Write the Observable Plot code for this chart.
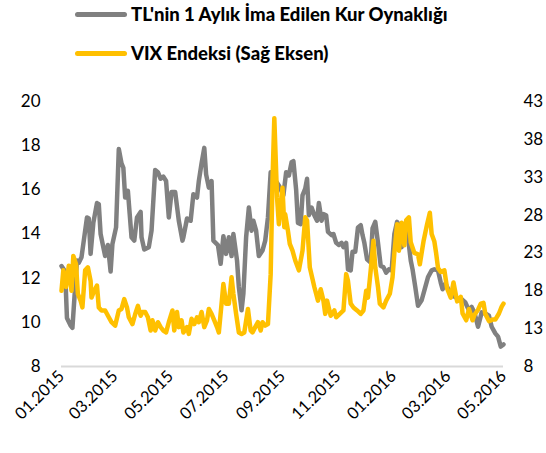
<!DOCTYPE html>
<html><head><meta charset="utf-8">
<script src="https://cdn.jsdelivr.net/npm/d3@7"></script>
<script src="https://cdn.jsdelivr.net/npm/@observablehq/plot@0.6"></script>
<style>
body{margin:0;background:#fff;font-family:Lato,"Open Sans",sans-serif;}
#legend{position:relative;height:80px;width:546px;}
.item{position:absolute;left:75px;display:flex;align-items:center;font-weight:900;font-size:18.5px;color:#000;line-height:22px;}
.sw{width:52px;height:5px;border-radius:2.5px;margin-right:4px;}
</style></head><body>
<div id="legend"></div>
<div id="chart"></div>
<script>
const seriesNames = ["TL'nin 1 Aylık İma Edilen Kur Oynaklığı", "VIX Endeksi (Sağ Eksen)"];
const seriesColors = ["#808080", "#FFC000"];
const leftTicks = [8, 10, 12, 14, 16, 18, 20];
const rightTicks = [8, 13, 18, 23, 28, 33, 38, 43];
const xTickLabels = ["01.2015","03.2015","05.2015","07.2015","09.2015","11.2015","01.2016","03.2016","05.2016"];

const tlDates = ["2015-01-01","2015-01-05","2015-01-07","2015-01-11","2015-01-13","2015-01-16","2015-01-18","2015-01-20","2015-01-23","2015-01-29","2015-01-31","2015-02-02","2015-02-05","2015-02-09","2015-02-11","2015-02-13","2015-02-16","2015-02-18","2015-02-21","2015-02-24","2015-02-26","2015-03-02","2015-03-05","2015-03-08","2015-03-10","2015-03-12","2015-03-15","2015-03-17","2015-03-19","2015-03-22","2015-03-25","2015-03-29","2015-03-30","2015-04-02","2015-04-07","2015-04-10","2015-04-14","2015-04-17","2015-04-20","2015-04-23","2015-04-26","2015-04-29","2015-05-02","2015-05-06","2015-05-10","2015-05-14","2015-05-15","2015-05-19","2015-05-23","2015-05-26","2015-05-30","2015-06-01","2015-06-04","2015-06-07","2015-06-09","2015-06-12","2015-06-15","2015-06-17","2015-06-22","2015-06-25","2015-06-28","2015-07-01","2015-07-04","2015-07-07","2015-07-09","2015-07-13","2015-07-15","2015-07-18","2015-07-20","2015-07-23","2015-07-26","2015-07-29","2015-07-31","2015-08-03","2015-08-06","2015-08-10","2015-08-13","2015-08-16","2015-08-19","2015-08-21","2015-08-23","2015-08-28","2015-09-02","2015-09-05","2015-09-08","2015-09-11","2015-09-13","2015-09-16","2015-09-18","2015-09-21","2015-09-23","2015-09-26","2015-09-28","2015-09-30","2015-10-03","2015-10-06","2015-10-09","2015-10-11","2015-10-14","2015-10-16","2015-10-19","2015-10-21","2015-10-25","2015-10-27","2015-10-30","2015-11-02","2015-11-05","2015-11-07","2015-11-10","2015-11-12","2015-11-15","2015-11-17","2015-11-20","2015-11-23","2015-11-26","2015-11-28","2015-11-30","2015-12-03","2015-12-07","2015-12-09","2015-12-12","2015-12-15","2015-12-18","2015-12-21","2015-12-24","2015-12-27","2015-12-30","2016-01-02","2016-01-05","2016-01-07","2016-01-10","2016-01-14","2016-01-17","2016-01-20","2016-01-22","2016-01-25","2016-01-28","2016-02-01","2016-02-04","2016-02-08","2016-02-12","2016-02-15","2016-02-19","2016-02-22","2016-02-24","2016-02-27","2016-03-02","2016-03-05","2016-03-09","2016-03-13","2016-03-16","2016-03-20","2016-03-24","2016-03-27","2016-03-30","2016-04-03","2016-04-07","2016-04-11","2016-04-15","2016-04-18","2016-04-22","2016-04-25","2016-04-28","2016-05-01"];
const tlValues = [12.55,12.3,10.2,9.85,9.75,11.6,12.8,12.7,12.95,14.75,14.7,13.1,14.5,15.4,15.35,14.0,13.4,13.0,13.5,12.3,13.55,14.3,17.85,17.2,17.0,15.65,15.95,14.9,13.85,13.7,14.75,15.0,13.85,13.3,13.4,14.15,16.9,16.8,16.5,16.6,16.4,14.75,15.9,15.9,14.6,13.7,13.85,14.7,14.6,15.8,15.65,16.4,17.2,17.9,16.7,16.1,16.4,13.7,13.5,12.65,13.9,13.1,13.85,13.0,14.0,12.8,11.6,10.55,11.3,13.85,15.2,14.15,14.6,14.15,13.0,13.25,13.7,14.75,16.8,16.0,16.5,16.2,15.75,16.8,16.65,17.25,17.3,16.0,14.5,14.45,15.75,16.05,16.5,14.85,15.2,14.85,14.6,15.4,14.6,14.9,14.85,14.1,13.95,14.0,13.6,13.5,13.6,13.4,13.6,12.4,12.35,13.2,13.2,14.3,14.4,13.95,13.6,12.85,12.7,14.25,14.55,13.6,12.55,12.5,12.25,12.4,12.35,14.0,14.55,14.4,13.4,14.45,13.85,12.8,12.4,11.6,10.75,11.0,11.45,12.05,12.35,12.4,12.35,11.8,11.5,11.75,11.45,11.2,11.15,11.0,11.05,10.9,10.55,10.7,10.45,9.8,10.45,10.4,10.3,9.8,9.5,9.35,8.9,9.0];

const vixDates = ["2015-01-01","2015-01-03","2015-01-06","2015-01-09","2015-01-12","2015-01-14","2015-01-17","2015-01-19","2015-01-22","2015-01-24","2015-01-27","2015-01-30","2015-02-02","2015-02-03","2015-02-06","2015-02-09","2015-02-11","2015-02-14","2015-02-18","2015-02-22","2015-02-25","2015-03-01","2015-03-05","2015-03-08","2015-03-11","2015-03-14","2015-03-16","2015-03-20","2015-03-23","2015-03-26","2015-03-29","2015-03-31","2015-04-03","2015-04-06","2015-04-09","2015-04-11","2015-04-14","2015-04-17","2015-04-20","2015-04-23","2015-04-26","2015-04-29","2015-05-03","2015-05-05","2015-05-08","2015-05-10","2015-05-13","2015-05-15","2015-05-19","2015-05-21","2015-05-24","2015-05-27","2015-05-30","2015-06-01","2015-06-04","2015-06-07","2015-06-10","2015-06-12","2015-06-15","2015-06-18","2015-06-21","2015-06-23","2015-06-26","2015-06-28","2015-07-01","2015-07-04","2015-07-07","2015-07-09","2015-07-12","2015-07-15","2015-07-18","2015-07-21","2015-07-25","2015-07-28","2015-07-30","2015-08-02","2015-08-05","2015-08-08","2015-08-10","2015-08-13","2015-08-16","2015-08-19","2015-08-21","2015-08-23","2015-08-26","2015-08-28","2015-08-30","2015-09-01","2015-09-03","2015-09-04","2015-09-07","2015-09-09","2015-09-12","2015-09-15","2015-09-19","2015-09-23","2015-09-26","2015-09-28","2015-10-01","2015-10-06","2015-10-10","2015-10-13","2015-10-16","2015-10-18","2015-10-20","2015-10-24","2015-10-28","2015-10-30","2015-11-03","2015-11-07","2015-11-10","2015-11-12","2015-11-15","2015-11-18","2015-11-22","2015-11-26","2015-11-29","2015-12-02","2015-12-04","2015-12-07","2015-12-10","2015-12-12","2015-12-15","2015-12-17","2015-12-21","2015-12-24","2015-12-28","2015-12-31","2016-01-02","2016-01-05","2016-01-07","2016-01-10","2016-01-13","2016-01-15","2016-01-18","2016-01-20","2016-01-24","2016-01-28","2016-01-30","2016-02-03","2016-02-07","2016-02-10","2016-02-12","2016-02-15","2016-02-17","2016-02-19","2016-02-22","2016-02-26","2016-02-29","2016-03-04","2016-03-07","2016-03-11","2016-03-15","2016-03-17","2016-03-21","2016-03-24","2016-03-28","2016-03-30","2016-04-03","2016-04-06","2016-04-09","2016-04-11","2016-04-15","2016-04-19","2016-04-22","2016-04-26","2016-04-29","2016-05-01"];
const vixValues = [18.0,20.7,18.5,21.3,18.0,22.6,21.5,17.6,16.7,15.8,20.7,21.1,19.3,17.1,18.0,18.7,15.8,15.4,15.4,14.5,13.85,13.4,15.4,15.6,16.9,15.8,14.5,13.6,14.9,16.0,14.7,15.2,15.2,14.5,12.75,14.1,12.75,13.85,13.2,12.75,12.5,13.85,15.4,12.75,15.2,13.2,14.1,12.5,13.2,12.3,14.3,13.6,14.5,13.85,15.2,13.2,14.1,15.6,14.95,14.1,13.2,12.5,16.3,18.9,16.3,16.3,19.8,17.6,14.95,12.5,12.3,12.5,15.6,12.75,12.5,13.2,13.85,12.75,13.85,13.4,13.6,20.2,32.5,40.8,30.3,26.8,29.0,31.6,26.4,28.1,25.9,24.2,23.3,22.0,20.7,23.3,27.7,27.3,21.1,18.5,16.7,18.2,16.7,14.95,16.7,14.7,15.4,14.5,14.95,15.4,20.2,19.3,16.3,15.8,15.4,14.95,15.4,18.0,17.1,20.7,24.6,21.1,18.5,16.3,15.8,16.7,17.6,19.8,23.0,26.8,23.3,27.0,24.0,27.3,27.7,24.4,23.0,22.8,21.5,24.5,26.8,28.3,25.5,24.5,22.9,21.0,20.5,20.7,18.3,17.1,19.1,16.6,17.2,15.0,14.1,15.6,14.1,14.8,15.5,16.3,16.4,14.95,14.0,14.2,14.2,15.0,15.9,16.3];

// legend
const legend = document.getElementById("legend");
seriesNames.forEach((name, i) => {
  const it = document.createElement("div");
  it.className = "item";
  it.style.top = (i === 0 ? 3 : 42) + "px";
  const sw = document.createElement("span");
  sw.className = "sw";
  sw.style.background = seriesColors[i];
  const tx = document.createElement("span");
  tx.textContent = name;
  it.appendChild(sw); it.appendChild(tx);
  legend.appendChild(it);
});

const lo = leftTicks[0], hi = leftTicks[leftTicks.length - 1];
const rlo = rightTicks[0], rhi = rightTicks[rightTicks.length - 1];
const toLeft = v => lo + (v - rlo) * (hi - lo) / (rhi - rlo);
const fromLeft = v => rlo + (v - lo) * (rhi - rlo) / (hi - lo);

const tl = tlDates.map((d, i) => ({date: new Date(d), value: tlValues[i]}));
const vix = vixDates.map((d, i) => ({date: new Date(d), value: toLeft(vixValues[i])}));
const xTicks = xTickLabels.map(s => { const [m, y] = s.split("."); return new Date(Date.UTC(+y, +m - 1, 1)); });

const H = 373;
const chart = Plot.plot({
  width: 546, height: H,
  marginLeft: 61, marginRight: 43, marginTop: 21, marginBottom: 87,
  x: {type: "utc", domain: [xTicks[0], xTicks[xTicks.length - 1]]},
  y: {domain: [lo, hi]},
  style: {fontFamily: "Lato, sans-serif", fontSize: "17px", color: "#000", background: "#fff"},
  marks: [
    Plot.ruleY([lo], {stroke: "#d9d9d9", strokeWidth: 2}),
    Plot.axisY(leftTicks, {anchor: "left", label: null, tickSize: 0, tickPadding: 21, fontSize: 17}),
    Plot.axisY(rightTicks.map(toLeft), {anchor: "right", label: null, tickSize: 0, tickPadding: 20, fontSize: 17, tickFormat: d => String(Math.round(fromLeft(d)))}),
    Plot.axisX(xTicks, {anchor: "bottom", label: null, tickSize: 0, tickPadding: 7, tickRotate: -45, fontSize: 16.5, tickFormat: d3.utcFormat("%m.%Y")}),
    Plot.line(tl, {x: "date", y: "value", stroke: seriesColors[0], strokeWidth: 4.5, strokeLinejoin: "round", strokeLinecap: "round"}),
    Plot.line(vix, {x: "date", y: "value", stroke: seriesColors[1], strokeWidth: 4.5, strokeLinejoin: "round", strokeLinecap: "round"})
  ]
});
document.getElementById("chart").appendChild(chart);
</script>
</body></html>
